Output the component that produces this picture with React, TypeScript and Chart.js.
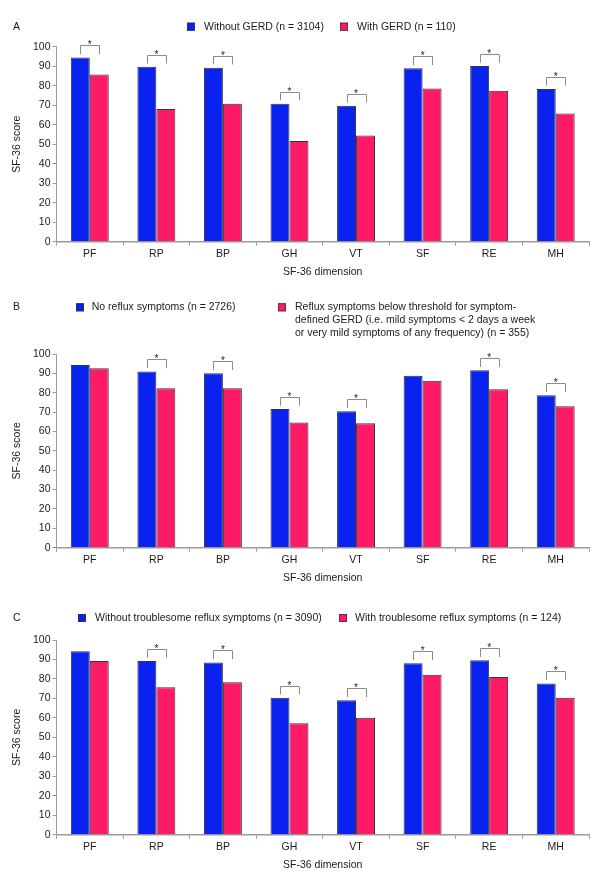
import React, { useEffect, useRef } from 'react';
import { Chart, registerables } from 'chart.js';

Chart.register(...registerables);

// ---------- data ----------
const dimensions = ['PF', 'RP', 'BP', 'GH', 'VT', 'SF', 'RE', 'MH'];
const yMin = 0;
const yMax = 100;
const yStep = 10;
const yAxisTitle = 'SF-36 score';
const xAxisTitle = 'SF-36 dimension';

const panelALetter = 'A';
const panelASeries = [['Without GERD (n = 3104)'], ['With GERD (n = 110)']];
const panelAWithout = [94.5, 89.7, 89.2, 70.8, 69.7, 88.9, 90.1, 78.3];
const panelAWith = [85.8, 68.0, 70.8, 51.6, 54.4, 78.6, 77.4, 65.8];
const panelASig = [true, true, true, true, true, true, true, true];

const panelBLetter = 'B';
const panelBSeries = [
  ['No reflux symptoms (n = 2726)'],
  [
    'Reflux symptoms below threshold for symptom-',
    'defined GERD (i.e. mild symptoms < 2 days a week',
    'or very mild symptoms of any frequency) (n = 355)',
  ],
];
const panelBNone = [94.3, 91.0, 90.0, 71.6, 70.4, 88.8, 91.6, 78.7];
const panelBBelow = [92.6, 82.3, 82.3, 64.7, 64.2, 86.2, 81.8, 73.0];
const panelBSig = [false, true, true, true, true, false, true, true];

const panelCLetter = 'C';
const panelCSeries = [
  ['Without troublesome reflux symptoms (n = 3090)'],
  ['With troublesome reflux symptoms (n = 124)'],
];
const panelCWithout = [94.2, 89.2, 88.5, 70.4, 69.0, 88.0, 89.6, 77.7];
const panelCWith = [89.2, 75.7, 78.3, 57.2, 60.1, 82.2, 81.0, 70.4];
const panelCSig = [false, true, true, true, true, true, true, true];

// ---------- style ----------
const BLUE = '#0a22f0';
const PINK = '#ff1a66';
const BAR_BORDER = '#33333f';
const AXIS = '#9a9a9a';
const TEXT = '#1a1a1a';
const FONT = '"Liberation Sans", Arial, sans-serif';

type PanelLayout = {
  top: number;
  height: number;
  plotTop: number;
  plotBottom: number;
  letterY: number;
  legendY: number;
  legendBoxX: [number, number];
  legendTextX: [number, number];
};

function makeDeco(
  letter: string,
  series: string[][],
  sig: boolean[],
  L: PanelLayout
) {
  return {
    id: 'panelDeco',
    afterDraw(chart: any) {
      const ctx = chart.ctx as CanvasRenderingContext2D;
      const area = chart.chartArea;
      ctx.save();
      ctx.fillStyle = TEXT;
      ctx.textBaseline = 'middle';
      ctx.textAlign = 'left';
      ctx.font = `10.5px ${FONT}`;
      ctx.fillText(letter, 13, L.letterY);

      // legend
      const colors = [BLUE, PINK];
      series.forEach((lines, k) => {
        const bx = L.legendBoxX[k];
        ctx.fillStyle = colors[k];
        ctx.fillRect(bx, L.legendY - 4, 8, 8);
        ctx.strokeStyle = BAR_BORDER;
        ctx.lineWidth = 0.8;
        ctx.strokeRect(bx + 0.4, L.legendY - 3.6, 7.2, 7.2);
        ctx.fillStyle = TEXT;
        lines.forEach((ln, j) => {
          ctx.fillText(ln, L.legendTextX[k], L.legendY + j * 13);
        });
      });

      // axis titles
      ctx.textAlign = 'center';
      ctx.fillText(xAxisTitle, (area.left + area.right) / 2, area.bottom + 30.5);
      ctx.save();
      ctx.translate(17, (area.top + area.bottom) / 2);
      ctx.rotate(-Math.PI / 2);
      ctx.fillText(yAxisTitle, 0, 0);
      ctx.restore();

      // significance brackets
      const m0 = chart.getDatasetMeta(0).data;
      const m1 = chart.getDatasetMeta(1).data;
      sig.forEach((s, i) => {
        if (!s) return;
        const a = m0[i];
        const b = m1[i];
        const topBar = Math.min(a.y, b.y);
        const yb = topBar - 3.3;
        const yt = yb - 8.7;
        ctx.strokeStyle = '#8a8a8a';
        ctx.lineWidth = 1;
        ctx.beginPath();
        ctx.moveTo(Math.round(a.x) + 0.5, yb);
        ctx.lineTo(Math.round(a.x) + 0.5, Math.round(yt) + 0.5);
        ctx.lineTo(Math.round(b.x) + 0.5, Math.round(yt) + 0.5);
        ctx.lineTo(Math.round(b.x) + 0.5, yb);
        ctx.stroke();
        ctx.fillStyle = TEXT;
        ctx.font = `10px ${FONT}`;
        ctx.textBaseline = 'alphabetic';
        ctx.fillText('*', (a.x + b.x) / 2, yt + 3);
        ctx.textBaseline = 'middle';
        ctx.font = `10.5px ${FONT}`;
      });
      ctx.restore();
    },
  };
}

function Panel(props: {
  letter: string;
  series: string[][];
  blue: number[];
  pink: number[];
  sig: boolean[];
  L: PanelLayout;
}) {
  const ref = useRef<HTMLCanvasElement | null>(null);
  const { letter, series, blue, pink, sig, L } = props;
  useEffect(() => {
    if (!ref.current) return;
    const xHeight = 30;
    const chart = new Chart(ref.current, {
      type: 'bar',
      data: {
        labels: dimensions,
        datasets: [
          {
            label: series[0].join(' '),
            data: blue,
            backgroundColor: BLUE,
            borderColor: BAR_BORDER,
            borderWidth: 1,
            categoryPercentage: 0.57,
            barPercentage: 1,
          },
          {
            label: series[1].join(' '),
            data: pink,
            backgroundColor: PINK,
            borderColor: BAR_BORDER,
            borderWidth: 1,
            categoryPercentage: 0.57,
            barPercentage: 1,
          },
        ],
      },
      options: {
        responsive: false,
        animation: false,
        devicePixelRatio: 1,
        layout: {
          padding: {
            top: L.plotTop,
            right: 11,
            left: 0,
            bottom: L.height - L.plotBottom - xHeight,
          },
        },
        plugins: {
          legend: { display: false },
          tooltip: { enabled: false },
        },
        scales: {
          x: {
            afterFit: (s: any) => {
              s.height = xHeight;
            },
            grid: {
              drawOnChartArea: false,
              drawTicks: true,
              tickLength: 4,
              color: AXIS,
              offset: true,
            },
            border: { color: AXIS, width: 1.5 },
            ticks: {
              padding: 2,
              color: TEXT,
              font: { family: FONT, size: 10.5 },
              maxRotation: 0,
            },
          },
          y: {
            min: yMin,
            max: yMax,
            afterFit: (s: any) => {
              s.width = 56.5;
            },
            ticks: {
              stepSize: yStep,
              padding: 2,
              color: TEXT,
              font: { family: FONT, size: 10.5 },
            },
            grid: {
              drawOnChartArea: false,
              drawTicks: true,
              tickLength: 4,
              color: AXIS,
            },
            border: { color: AXIS, width: 1 },
          },
        },
      },
      plugins: [makeDeco(letter, series, sig, L)],
    });
    return () => chart.destroy();
  }, []);
  return (
    <canvas
      ref={ref}
      width={600}
      height={L.height}
      style={{
        position: 'absolute',
        left: 0,
        top: L.top,
        width: 600,
        height: L.height,
        display: 'block',
      }}
    />
  );
}

const layoutA: PanelLayout = {
  top: 0,
  height: 290,
  plotTop: 46.7,
  plotBottom: 241.7,
  letterY: 26.7,
  legendY: 26.7,
  legendBoxX: [187, 340],
  legendTextX: [204, 357],
};
const layoutB: PanelLayout = {
  top: 290,
  height: 300,
  plotTop: 64,
  plotBottom: 257.7,
  letterY: 17,
  legendY: 17.3,
  legendBoxX: [76, 278],
  legendTextX: [91.7, 295],
};
const layoutC: PanelLayout = {
  top: 590,
  height: 290,
  plotTop: 50,
  plotBottom: 244.7,
  letterY: 28,
  legendY: 28,
  legendBoxX: [78, 339],
  legendTextX: [95, 355],
};

export default function App() {
  return (
    <div
      style={{
        position: 'absolute',
        left: 0,
        top: 0,
        width: 600,
        height: 880,
        background: '#ffffff',
        overflow: 'hidden',
      }}
    >
      <Panel letter={panelALetter} series={panelASeries} blue={panelAWithout} pink={panelAWith} sig={panelASig} L={layoutA} />
      <Panel letter={panelBLetter} series={panelBSeries} blue={panelBNone} pink={panelBBelow} sig={panelBSig} L={layoutB} />
      <Panel letter={panelCLetter} series={panelCSeries} blue={panelCWithout} pink={panelCWith} sig={panelCSig} L={layoutC} />
    </div>
  );
}
